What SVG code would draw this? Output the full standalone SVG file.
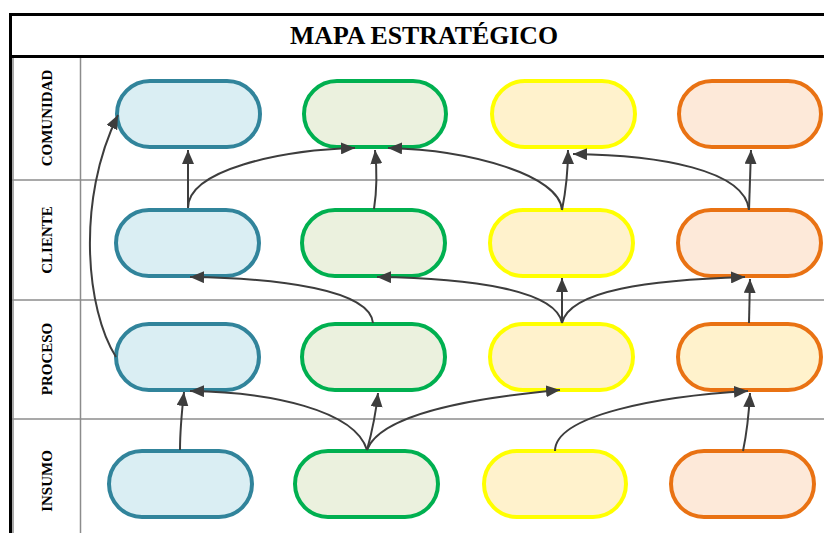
<svg xmlns="http://www.w3.org/2000/svg" width="824" height="533" viewBox="0 0 824 533">
<defs>
<style>
.grid{stroke:#8c8c8c;stroke-width:1.5;fill:none}
.border{stroke:#000;stroke-width:3;fill:none}
.title{font-family:"Liberation Serif","Times New Roman",serif;font-weight:bold;font-size:26px;fill:#000}
.lbl{font-family:"Liberation Serif","Times New Roman",serif;font-weight:bold;font-size:15px;fill:#000}
.node{stroke-width:4}
.c1{stroke:#31849B;fill:#DAEEF3}
.c2{stroke:#00B050;fill:#EBF1DE}
.c3{stroke:#FFFF00;fill:#FFF2CC}
.c4{stroke:#E97213;fill:#FDE9D9}
.c4y{stroke:#E97213;fill:#FFF2CC}
.conn path{stroke:#3d3d3d;stroke-width:2;fill:none;marker-end:url(#ah)}
</style>
<marker id="ah" markerUnits="userSpaceOnUse" markerWidth="14" markerHeight="12" refX="14" refY="6" orient="auto">
<path d="M0,0 L14,6 L0,12 z" fill="#3d3d3d"/>
</marker>
</defs>
<rect x="0" y="0" width="824" height="533" fill="#fff"/>
<g id="frame">
<line class="grid" x1="10" y1="180" x2="824" y2="180"/>
<line class="grid" x1="10" y1="300" x2="824" y2="300"/>
<line class="grid" x1="10" y1="419" x2="824" y2="419"/>
<line class="grid" x1="80.5" y1="57" x2="80.5" y2="533"/>
<line class="grid" x1="13" y1="57" x2="13" y2="533"/>
<line class="border" x1="10" y1="14.5" x2="824" y2="14.5"/>
<line class="border" x1="10" y1="56.5" x2="824" y2="56.5"/>
<line class="border" x1="10.5" y1="13" x2="10.5" y2="533"/>
<text class="title" x="290" y="43.5" textLength="268" lengthAdjust="spacingAndGlyphs">MAPA ESTRATÉGICO</text>
<text class="lbl" transform="translate(52,118) rotate(-90)" text-anchor="middle">COMUNIDAD</text>
<text class="lbl" transform="translate(52,240) rotate(-90)" text-anchor="middle">CLIENTE</text>
<text class="lbl" transform="translate(52,359) rotate(-90)" text-anchor="middle">PROCESO</text>
<text class="lbl" transform="translate(52,481) rotate(-90)" text-anchor="middle">INSUMO</text>
</g>
<g id="n-com-1"><rect class="node c1" x="117" y="81" width="143" height="66" rx="33"/></g>
<g id="n-com-2"><rect class="node c2" x="304" y="81" width="142" height="66" rx="33"/></g>
<g id="n-com-3"><rect class="node c3" x="492" y="81" width="143" height="66" rx="33"/></g>
<g id="n-com-4"><rect class="node c4" x="679" y="81" width="142" height="66" rx="33"/></g>
<g id="n-cli-1"><rect class="node c1" x="116" y="210" width="143" height="66" rx="33"/></g>
<g id="n-cli-2"><rect class="node c2" x="302" y="210" width="143" height="66" rx="33"/></g>
<g id="n-cli-3"><rect class="node c3" x="490" y="210" width="143" height="66" rx="33"/></g>
<g id="n-cli-4"><rect class="node c4" x="678" y="210" width="143" height="66" rx="33"/></g>
<g id="n-pro-1"><rect class="node c1" x="116" y="324" width="143" height="66" rx="33"/></g>
<g id="n-pro-2"><rect class="node c2" x="302" y="324" width="143" height="66" rx="33"/></g>
<g id="n-pro-3"><rect class="node c3" x="490" y="324" width="143" height="66" rx="33"/></g>
<g id="n-pro-4"><rect class="node c4y" x="678" y="324" width="143" height="66" rx="33"/></g>
<g id="n-ins-1"><rect class="node c1" x="109" y="451" width="143" height="66" rx="33"/></g>
<g id="n-ins-2"><rect class="node c2" x="295" y="451" width="143" height="66" rx="33"/></g>
<g id="n-ins-3"><rect class="node c3" x="484" y="451" width="142" height="66" rx="33"/></g>
<g id="n-ins-4"><rect class="node c4" x="671" y="451" width="143" height="66" rx="33"/></g>
<g id="connectors" class="conn">
<path d="M116,357 C86,310 76,200 118,115"/>
<path d="M188,208 L188,150"/>
<path d="M188,208 C188,170 280,150 355,148"/>
<path d="M374,209 C377,190 377,170 375,150"/>
<path d="M562,210 C560,175 470,150 388,148"/>
<path d="M562,210 C566,190 568,170 568,150"/>
<path d="M749,210 C745,170 660,155 573,154"/>
<path d="M749,210 L751,150"/>
<path d="M373,323 C370,290 280,278 190,277"/>
<path d="M562,323 C556,290 470,278 377,277"/>
<path d="M562,323 L562,278"/>
<path d="M562,323 C570,290 650,280 745,277"/>
<path d="M749,323 L750,279"/>
<path d="M180,450 C180,430 182,410 184,392"/>
<path d="M367,450 C355,410 270,392 190,391"/>
<path d="M367,450 C372,432 376,412 378,393"/>
<path d="M367,450 C380,415 470,398 560,390"/>
<path d="M555,451 C555,415 660,396 748,391"/>
<path d="M743,451 C747,432 749,412 750,393"/>
</g>
</svg>
